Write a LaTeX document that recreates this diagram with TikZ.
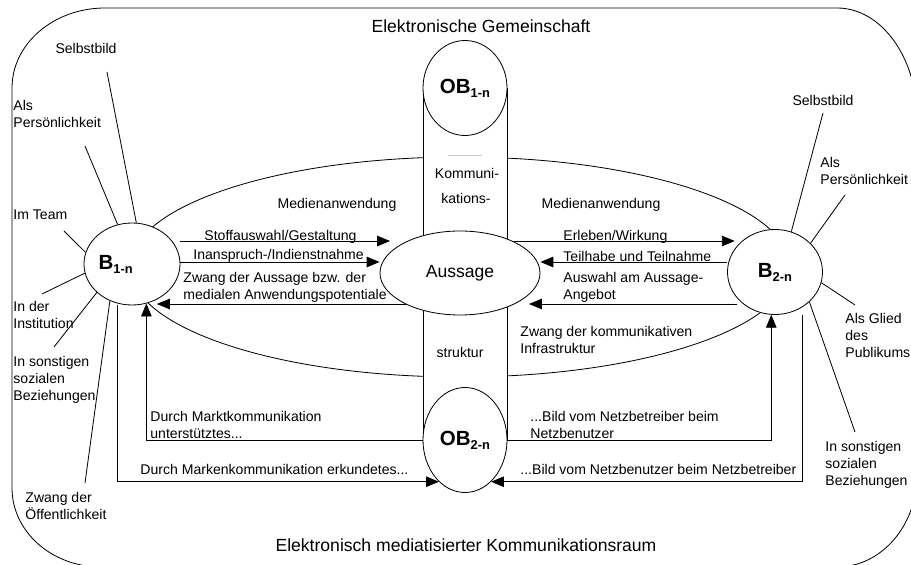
\documentclass[tikz,border=0pt]{standalone}
\usepackage{fontspec}
\setmainfont{Liberation Sans}
\usetikzlibrary{shapes.geometric,arrows.meta,calc}
\newcommand{\obidx}[1]{\raisebox{-3.5pt}{\fontsize{11}{11}\selectfont #1}}

\begin{document}
\begin{tikzpicture}[x=0.03cm,y=-0.03cm,line width=0.7pt,
		rund/.style={draw,ellipse,fill=white,inner sep=0pt},
		gross/.style={font=\fontsize{17.5}{20}\selectfont\bfseries},
		txt/.style={inner sep=0pt,align=left,font=\fontsize{12}{14.5}\selectfont},
		titel/.style={inner sep=0pt,font=\fontsize{15}{18}\selectfont},
		pfeil/.style={-{Triangle[length=11pt,width=9pt]}}]
			\useasboundingbox (0,0) rectangle (911,565);

			\begin{scope}
				\clip (0,0) rectangle (911,565);
				\draw (12,488) -- (12,88) arc[start angle=180,end angle=270,x radius=93,y radius=80]
					-- (837,8) arc[start angle=270,end angle=360,x radius=80,y radius=110]
					-- (917,475) arc[start angle=0,end angle=90,x radius=80,y radius=92]
					-- (101,567) arc[start angle=90,end angle=180,x radius=89,y radius=79] -- cycle;
			\end{scope}

			\draw (460,267) ellipse [x radius=330, y radius=110];
			\fill[white] (423,88) rectangle (507,440);
			\draw (423,88) -- (423,440) (507,88) -- (507,440);
			\draw[gray!45,line width=0.5pt] (448,155) -- (482,155);

			\node[rund,gross,minimum width=2.52cm,minimum height=2.85cm] (ob1) at (465,88) {OB\obidx{1-n}};
			\node[rund,gross,minimum width=2.52cm,minimum height=3.15cm] (ob2) at (465,440) {OB\obidx{2-n}};
			\node[rund,titel,minimum width=4.8cm,minimum height=2.52cm] (aussage) at (460,273) {Aussage};
			\node[rund,minimum width=2.88cm,minimum height=2.46cm,
				label={[gross,xshift=-14pt]center:B\obidx{1-n}}] (b1) at (132,264) {};
			\node[rund,gross,minimum width=2.85cm,minimum height=2.55cm] (b2) at (775,272) {B\obidx{2-n}};

			\foreach \w/\x/\y in {84/107/72, 110/85/146, 166/64/231, 191/42/294, 219/54/347, 239/85/483}
				\draw (b1.\w) -- (\x,\y) coordinate (sa\w);
			\foreach \w/\x/\y in {68/823/113, 39/845/195, 347/855/305, 319/855/432}
				\draw (b2.\w) -- (\x,\y) coordinate (sb\w);

			\coordinate (p1) at (390,241);
			\coordinate (p2) at (0,262);
			\coordinate (p3) at (0,304);
			\coordinate (q1) at (0,241);
			\coordinate (q3) at (529,304);
			\draw[pfeil] (b1.east |- p1) -- (p1);
			\draw[pfeil] (b1.east |- p2) -- (aussage.west |- p2);
			\draw[pfeil] (aussage.210 |- p3) -- (b1.305 |- p3);
			\draw[pfeil] (aussage.30 |- q1) -- (b2.150 |- q1);
			\draw[pfeil] (b2.west |- p2) -- (aussage.east |- p2);
			\draw[pfeil] (b2.215 |- q3) -- (q3);

			\draw[pfeil] ($(b1.south)+(-15,0)$) |- (ob2.238);
			\draw[pfeil] (ob2.west) -| (b1.290);
			\draw[pfeil] (ob2.east) -| (b2.265);
			\draw[pfeil] ($(b2.south)+(27,0)$) |- (ob2.302);

			\node[titel] (eg) at (481,26) {Elektronische Gemeinschaft};
			\node[titel] (ekr) at (466,545) {Elektronisch mediatisierter Kommunikationsraum};

			\node[txt] (l1) at (86,48) {Selbstbild};
			\node[txt,anchor=west] (l2) at (13,113.5) {Als\\Persönlichkeit};
			\node[txt,anchor=west] (l3) at (13,215) {Im Team};
			\node[txt,anchor=west] (l4) at (13,314.5) {In der\\Institution};
			\node[txt,anchor=west] (l5) at (13,380) {In sonstigen\\sozialen\\Beziehungen};
			\node[txt,anchor=west] (l6) at (25,506) {Zwang der\\Öffentlichkeit};

			\node[txt] (r1) at (823,100) {Selbstbild};
			\node[txt,anchor=west] (r2) at (820,170.5) {Als\\Persönlichkeit};
			\node[txt,anchor=west] (r3) at (845,335) {Als Glied\\des\\Publikums};
			\node[txt,anchor=west] (r4) at (825,465) {In sonstigen\\sozialen\\Beziehungen};

			\node[txt] (m1) at (337,205) {Medienanwendung};
			\node[txt] (m2) at (601,205) {Medienanwendung};
			\node[txt] (k1) at (467,173) {Kommuni-};
			\node[txt] (k2) at (466,198) {kations-};
			\node[txt] (k3) at (460,352) {struktur};

			\node[txt,anchor=west] (a1) at (204,237) {Stoffauswahl/Gestaltung};
			\node[txt,anchor=west] (a2) at (193,256) {Inanspruch-/Indienstnahme};
			\node[txt,anchor=west] (a3) at (183,287) {Zwang der Aussage bzw. der\\medialen Anwendungspotentiale};
			\node[txt,anchor=west] (a4) at (563,237) {Erleben/Wirkung};
			\node[txt,anchor=west] (a5) at (563,256) {Teilhabe und Teilnahme};
			\node[txt,anchor=west] (a6) at (563,287) {Auswahl am Aussage-\\Angebot};
			\node[txt,anchor=west] (a7) at (520,340) {Zwang der kommunikativen\\Infrastruktur};

			\node[txt,anchor=west] (u1) at (150,424.5) {Durch Marktkommunikation\\unterstütztes...};
			\node[txt,anchor=west] (u2) at (140,469) {Durch Markenkommunikation erkundetes...};
			\node[txt,anchor=west] (u3) at (530,424.5) {...Bild vom Netzbetreiber beim\\Netzbenutzer};
			\node[txt,anchor=west] (u4) at (520,469) {...Bild vom Netzbenutzer beim Netzbetreiber};
		\end{tikzpicture}
\end{document}
